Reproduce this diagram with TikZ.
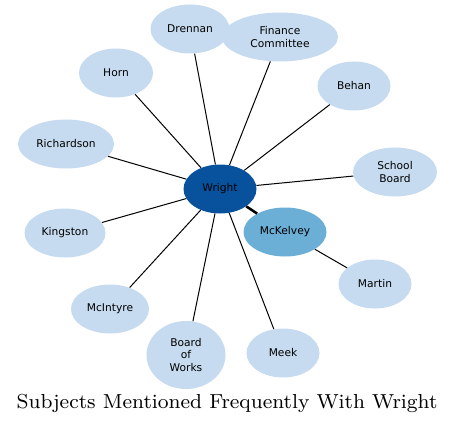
\documentclass[tikz,border=0pt]{standalone}
\usepackage{fontspec}
\newfontfamily\labelfont{DejaVu Sans}
\usetikzlibrary{shapes.geometric}
\definecolor{wrightblue}{HTML}{08519C}
\definecolor{kelveyblue}{HTML}{6BAED6}
\definecolor{subjectblue}{HTML}{C6DBEF}

\begin{document}
\begin{tikzpicture}[x=0.75pt, y=-0.75pt,
		subject/.style = {ellipse, fill = subjectblue, inner sep = 0pt, minimum height = 36.75pt, align = center, font = \labelfont\fontsize{8}{9.5}\selectfont},
		link/.style = {line width = 0.75pt},
		strong link/.style = {line width = 1.9pt}]
		\useasboundingbox (0,0) rectangle (456,424);
		\node[subject, fill = wrightblue, minimum width = 54.75pt] (Wright) at (220,189) {Wright};
		\node[subject, fill = kelveyblue, minimum width = 62.25pt] (McKelvey) at (285,232) {McKelvey};
		\node[subject, minimum width = 59.25pt] (Drennan) at (190,29) {Drennan};
		\node[subject, minimum width = 87pt] (Finance) at (280,37) {Finance\\Committee};
		\node[subject, minimum width = 55.5pt] (Horn) at (116,73) {Horn};
		\node[subject, minimum width = 54.75pt] (Behan) at (354,86) {Behan};
		\node[subject, minimum width = 72pt] (Richardson) at (66,144) {Richardson};
		\node[subject, minimum width = 63pt] (School) at (395,172) {School\\Board};
		\node[subject, minimum width = 60.75pt] (Kingston) at (65,233) {Kingston};
		\node[subject, minimum width = 54.75pt] (Martin) at (375,284) {Martin};
		\node[subject, minimum width = 58.5pt] (McIntyre) at (110,309) {McIntyre};
		\node[subject, minimum width = 59.25pt, minimum height = 51pt] (Works) at (186,355) {Board\\of\\Works};
		\node[subject, minimum width = 54.75pt] (Meek) at (283,353) {Meek};
		\draw[strong link] (Wright) -- (McKelvey);
		\draw[link] (Wright) -- (Drennan);
		\draw[link] (Wright) -- (Finance);
		\draw[link] (Wright) -- (Horn);
		\draw[link] (Wright) -- (Behan);
		\draw[link] (Wright) -- (Richardson);
		\draw[link] (Wright) -- (School);
		\draw[link] (Wright) -- (Kingston);
		\draw[link] (Wright) -- (McIntyre);
		\draw[link] (Wright) -- (Works);
		\draw[link] (Wright) -- (Meek);
		\draw[link] (McKelvey) -- (Martin);
		\node[anchor = base, inner sep = 0pt] (Title) at (227,408.5) {\scalebox{1.9}{\fontsize{8}{9}\selectfont Subjects Mentioned Frequently With Wright}};
	\end{tikzpicture}
\end{document}
